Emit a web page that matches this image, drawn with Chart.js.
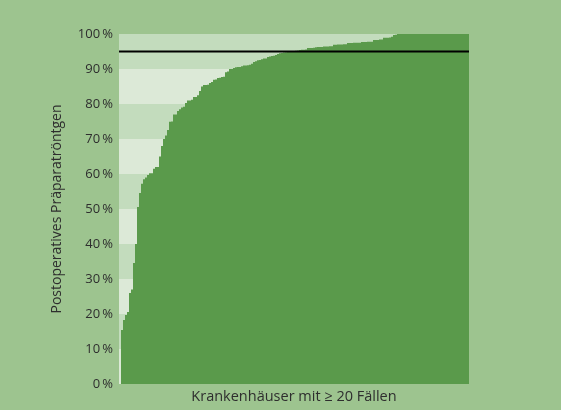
<!DOCTYPE html>
<html>
<head>
<meta charset="utf-8">
<script src="https://cdn.jsdelivr.net/npm/chart.js@4/dist/chart.umd.min.js"></script>
<style>
  html, body { margin: 0; padding: 0; background: #9dc48f; }
  #wrap { width: 561px; height: 410px; }
</style>
</head>
<body>
<div id="wrap"><canvas id="chart" width="561" height="410"></canvas></div>
<script>
// Anteil mit postoperativem Präparatröntgen je Krankenhaus (aufsteigend sortiert)
const shareLow = [
  0, 15.4, 18.3, 19.7, 20.6, 26, 27, 34.6, 40, 50.6,
  54.6, 57.2, 58.5, 59, 59.7, 60.2, 60.2, 61.5, 62, 62,
  65, 68, 70, 71, 72.6, 74.9, 75, 77, 77, 78,
  78.5, 79, 79.2, 80.3, 81, 81, 81.2, 82, 82, 82.5,
  83.7, 85, 85.4, 85.4, 85.5, 86, 86.3, 86.9, 87, 87.4,
  87.5, 87.7, 87.8, 89.1, 89.3, 90, 90, 90.3, 90.5, 90.6
];
const shareMid = [
  90.6, 90.8, 91, 91, 91.1, 91.2, 91.5, 92, 92.2, 92.5,
  92.6, 92.8, 93, 93, 93.4, 93.6, 93.7, 93.8, 94, 94.3,
  94.5, 94.6, 94.7, 94.8, 94.9, 95, 95, 95.1, 95.2, 95.3,
  95.4, 95.5, 95.5, 95.6, 96, 96, 96, 96.1, 96.2, 96.3,
  96.3, 96.3, 96.4, 96.4, 96.4, 96.5, 96.5, 96.9, 96.9, 97
];
const shareHigh = [
  97, 97, 97.1, 97.1, 97.4, 97.4, 97.4, 97.5, 97.5, 97.5,
  97.5, 97.7, 97.7, 97.7, 97.8, 97.8, 97.8, 98.3, 98.3, 98.3,
  98.4, 98.4, 98.9, 98.9, 98.9, 99, 99.2, 99.7, 99.8
];
const shareFull = new Array(36).fill(100);
const shares = shareLow.concat(shareMid, shareHigh, shareFull);
const hospitals = shares.map((v, i) => 'KH ' + (i + 1));

const targetValue = 95;
const yTickValues = [0, 10, 20, 30, 40, 50, 60, 70, 80, 90, 100];
const yTickLabels = ['0\u2009%', '10\u2009%', '20\u2009%', '30\u2009%', '40\u2009%', '50\u2009%',
  '60\u2009%', '70\u2009%', '80\u2009%', '90\u2009%', '100\u2009%'];

const xTitle = 'Krankenhäuser mit \u2265 20 Fällen';
const yTitle = 'Postoperatives Präparatröntgen';

const bandColors = ['#dce9d7', '#c3dcbd'];
const barColor = '#5a9a4b';
const textColor = '#2e2e2e';
const fontFamily = '"Open Sans", "DejaVu Sans", sans-serif';

// background + alternating horizontal bands
const bandsPlugin = {
  id: 'bands',
  beforeDraw(chart) {
    const { ctx, chartArea, scales } = chart;
    ctx.save();
    ctx.fillStyle = '#9dc48f';
    ctx.fillRect(0, 0, chart.width, chart.height);
    const y = scales.y;
    for (let i = 0; i < yTickValues.length - 1; i++) {
      const top = y.getPixelForValue(yTickValues[i + 1]);
      const bottom = y.getPixelForValue(yTickValues[i]);
      ctx.fillStyle = bandColors[i % 2];
      ctx.fillRect(chartArea.left, top, chartArea.right - chartArea.left, bottom - top);
    }
    ctx.restore();
  }
};

// target line at 95 %
const targetPlugin = {
  id: 'target',
  afterDatasetsDraw(chart) {
    const { ctx, chartArea, scales } = chart;
    const yPix = scales.y.getPixelForValue(targetValue);
    ctx.save();
    ctx.strokeStyle = '#000000';
    ctx.lineWidth = 2;
    ctx.beginPath();
    ctx.moveTo(chartArea.left, yPix);
    ctx.lineTo(chartArea.right, yPix);
    ctx.stroke();
    ctx.restore();
  }
};

new Chart(document.getElementById('chart'), {
  type: 'bar',
  data: {
    labels: hospitals,
    datasets: [{
      data: shares,
      backgroundColor: barColor,
      borderWidth: 0,
      barPercentage: 1,
      categoryPercentage: 1,
      inflateAmount: 0
    }]
  },
  options: {
    responsive: false,
    animation: false,
    layout: { padding: { left: 0, right: 92, top: 34, bottom: 0 } },
    plugins: {
      legend: { display: false },
      tooltip: { enabled: false }
    },
    scales: {
      x: {
        grid: { display: false, drawTicks: false },
        border: { display: false },
        ticks: { display: false },
        title: {
          display: true,
          text: xTitle,
          color: textColor,
          font: { family: fontFamily, size: 14.5 },
          padding: { top: 0, bottom: 4 }
        },
        afterFit(scale) { scale.height = 26; }
      },
      y: {
        min: 0,
        max: 100,
        grid: { display: false, drawTicks: false },
        border: { display: false },
        afterBuildTicks(scale) {
          scale.ticks = yTickValues.map(v => ({ value: v }));
        },
        ticks: {
          color: textColor,
          padding: 6,
          font: { family: fontFamily, size: 13 },
          callback: (value, index) => yTickLabels[index]
        },
        title: {
          display: true,
          text: yTitle,
          color: textColor,
          font: { family: fontFamily, size: 14 },
          padding: { top: 49, bottom: 0 }
        },
        afterFit(scale) { scale.width = 119; }
      }
    }
  },
  plugins: [bandsPlugin, targetPlugin]
});
</script>
</body>
</html>
